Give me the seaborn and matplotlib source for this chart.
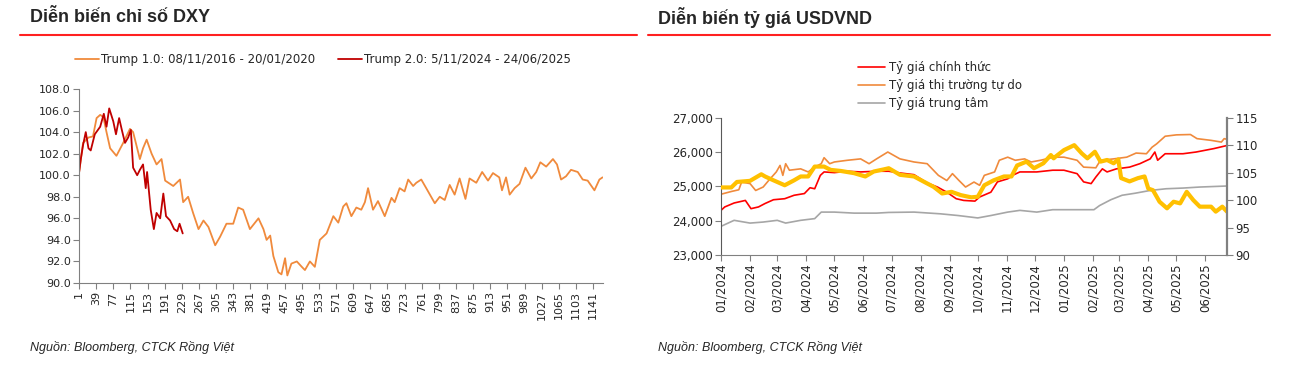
import pandas as pd
import numpy as np
import matplotlib.pyplot as plt
import matplotlib.dates as mdates
from matplotlib.lines import Line2D
from matplotlib.ticker import FuncFormatter
import seaborn as sns

# --- DXY: Trump 1.0 vs Trump 2.0 (day count since the election) ---
trump1_day = [1, 10, 22, 32, 40, 48, 55, 62, 70, 84, 99, 114, 121, 136, 143, 151, 162, 173, 184,
              192, 210, 225, 232, 243, 254, 266, 277, 288, 303, 314, 328, 343, 354, 365, 380, 399,
              410, 417, 425, 432, 443, 450, 458, 463, 472, 484, 495, 502, 513, 524, 535, 550, 565,
              576, 587, 594, 605, 616, 627, 635, 642, 653, 664, 679, 694, 701, 712, 723, 731, 742,
              749, 760, 771, 790, 801, 812, 823, 834, 845, 858, 867, 882, 895, 908, 919, 933, 939,
              948, 956, 967, 978, 991, 1004, 1015, 1024, 1037, 1052, 1061, 1070, 1081, 1092, 1107,
              1118, 1129, 1144, 1155, 1162]
trump1_dxy = [100.2, 103.0, 103.5, 103.6, 105.3, 105.6, 105.4, 104.0, 102.5, 101.8, 103.0, 104.3,
              104.0, 101.5, 102.5, 103.3, 102.0, 101.0, 101.5, 99.5, 99.0, 99.6, 97.5, 98.0, 96.5,
              95.0, 95.8, 95.2, 93.5, 94.3, 95.5, 95.5, 97.0, 96.8, 95.0, 96.0, 95.0, 94.0, 94.4,
              92.5, 91.0, 90.8, 92.3, 90.7, 91.8, 92.0, 91.5, 91.2, 92.0, 91.5, 94.0, 94.6, 96.2,
              95.6, 97.1, 97.4, 96.2, 97.0, 96.8, 97.5, 98.8, 96.8, 97.6, 96.2, 97.9, 97.5, 98.8,
              98.5, 99.6, 99.0, 99.3, 99.6, 98.8, 97.4, 98.0, 97.7, 99.1, 98.2, 99.7, 97.8, 99.7,
              99.3, 100.3, 99.5, 100.2, 99.8, 98.6, 99.8, 98.2, 98.8, 99.2, 100.7, 99.7, 100.3,
              101.2, 100.8, 101.5, 101.0, 99.6, 99.9, 100.5, 100.3, 99.6, 99.5, 98.6, 99.6, 99.8]

trump2_day = [1, 5, 10, 16, 22, 27, 36, 48, 56, 62, 68, 77, 83, 90, 96, 103, 110, 116, 121, 130,
              136, 143, 149, 152, 160, 167, 173, 181, 188, 194, 203, 212, 219, 224, 231]
trump2_dxy = [100.2, 101.5, 102.8, 104.0, 102.5, 102.3, 103.8, 104.5, 105.7, 104.5, 106.2, 105.0,
              103.8, 105.3, 104.2, 103.0, 103.5, 104.2, 100.7, 100.0, 100.5, 101.0, 98.8, 100.3,
              96.8, 95.0, 96.5, 96.0, 98.3, 96.2, 95.8, 95.0, 94.8, 95.5, 94.6]

dxy_ticks = list(range(1, 1142, 38))

# --- USDVND ---
official_date = ['2024-01-01', '2024-01-05', '2024-01-15', '2024-01-27', '2024-02-02', '2024-02-10',
                 '2024-02-17', '2024-02-26', '2024-03-09', '2024-03-19', '2024-03-30', '2024-04-05',
                 '2024-04-10', '2024-04-16', '2024-04-20', '2024-05-01', '2024-05-15', '2024-05-29',
                 '2024-06-15', '2024-06-28', '2024-07-10', '2024-07-25', '2024-08-08', '2024-08-19',
                 '2024-08-29', '2024-09-08', '2024-09-16', '2024-09-28', '2024-10-03', '2024-10-15',
                 '2024-10-22', '2024-11-02', '2024-11-07', '2024-11-15', '2024-12-03', '2024-12-20',
                 '2025-01-01', '2025-01-15', '2025-01-22', '2025-01-30', '2025-02-04', '2025-02-11',
                 '2025-02-16', '2025-02-26', '2025-03-12', '2025-03-23', '2025-04-03', '2025-04-08',
                 '2025-04-11', '2025-04-19', '2025-05-08', '2025-05-22', '2025-06-10', '2025-06-24']
official_rate = [24300, 24400, 24515, 24590, 24350, 24400, 24500, 24610, 24640, 24740, 24790, 24960,
                 24930, 25320, 25420, 25400, 25440, 25420, 25440, 25440, 25390, 25340, 25100, 24980,
                 24830, 24640, 24590, 24570, 24690, 24830, 25130, 25220, 25320, 25420, 25420, 25470,
                 25470, 25370, 25130, 25080, 25270, 25510, 25420, 25510, 25560, 25660, 25800, 26000,
                 25760, 25950, 25950, 26000, 26100, 26190]

free_date = ['2024-01-01', '2024-01-12', '2024-01-20', '2024-01-23', '2024-02-01', '2024-02-07',
             '2024-02-15', '2024-02-21', '2024-02-29', '2024-03-04', '2024-03-07', '2024-03-10',
             '2024-03-14', '2024-03-26', '2024-04-03', '2024-04-10', '2024-04-17', '2024-04-20',
             '2024-04-26', '2024-05-01', '2024-05-15', '2024-05-29', '2024-06-07', '2024-06-15',
             '2024-06-27', '2024-07-10', '2024-07-25', '2024-08-08', '2024-08-20', '2024-08-29',
             '2024-09-04', '2024-09-11', '2024-09-18', '2024-09-27', '2024-10-03', '2024-10-08',
             '2024-10-19', '2024-10-24', '2024-11-02', '2024-11-10', '2024-11-20', '2024-11-27',
             '2024-12-07', '2024-12-21', '2025-01-01', '2025-01-15', '2025-01-22', '2025-02-04',
             '2025-02-09', '2025-02-23', '2025-03-09', '2025-03-19', '2025-03-30', '2025-04-05',
             '2025-04-10', '2025-04-19', '2025-05-01', '2025-05-16', '2025-05-23', '2025-06-07',
             '2025-06-18', '2025-06-21', '2025-06-24']
free_rate = [24770, 24850, 24900, 25125, 25080, 24880, 24980, 25175, 25420, 25610, 25320, 25660,
             25470, 25510, 25420, 25560, 25660, 25835, 25660, 25710, 25760, 25800, 25660, 25800,
             26000, 25800, 25710, 25660, 25320, 25170, 25370, 25170, 24980, 25125, 25030, 25320,
             25420, 25760, 25850, 25760, 25800, 25710, 25760, 25850, 25850, 25760, 25560, 25540,
             25760, 25800, 25850, 25970, 25950, 26140, 26240, 26460, 26500, 26510, 26390, 26340,
             26290, 26390, 26370]

central_date = ['2024-01-01', '2024-01-15', '2024-02-01', '2024-02-15', '2024-03-01', '2024-03-10',
                '2024-03-26', '2024-04-10', '2024-04-17', '2024-05-01', '2024-05-22', '2024-06-15',
                '2024-06-28', '2024-07-25', '2024-08-22', '2024-09-10', '2024-10-01', '2024-10-15',
                '2024-11-02', '2024-11-15', '2024-12-03', '2024-12-20', '2025-01-08', '2025-02-02',
                '2025-02-08', '2025-02-20', '2025-03-04', '2025-03-18', '2025-04-03', '2025-04-20',
                '2025-05-08', '2025-05-26', '2025-06-24']
central_rate = [23835, 24010, 23930, 23960, 24010, 23930, 24010, 24060, 24250, 24250, 24220, 24220,
                24240, 24250, 24200, 24150, 24080, 24150, 24250, 24300, 24250, 24320, 24320, 24320,
                24440, 24610, 24740, 24800, 24880, 24930, 24950, 24980, 25010]

dxy_date = ['2024-01-01', '2024-01-12', '2024-01-18', '2024-02-01', '2024-02-05', '2024-02-13',
            '2024-02-17', '2024-02-26', '2024-03-05', '2024-03-09', '2024-03-19', '2024-03-26',
            '2024-04-03', '2024-04-10', '2024-04-20', '2024-04-27', '2024-05-08', '2024-05-22',
            '2024-06-03', '2024-06-12', '2024-06-23', '2024-06-28', '2024-07-10', '2024-07-25',
            '2024-08-05', '2024-08-15', '2024-08-24', '2024-09-03', '2024-09-13', '2024-09-24',
            '2024-10-01', '2024-10-08', '2024-10-18', '2024-10-29', '2024-11-06', '2024-11-12',
            '2024-11-22', '2024-11-30', '2024-12-10', '2024-12-18', '2024-12-21', '2024-12-23',
            '2025-01-01', '2025-01-12', '2025-01-20', '2025-01-26', '2025-02-03', '2025-02-09',
            '2025-02-16', '2025-02-23', '2025-02-28', '2025-03-03', '2025-03-12', '2025-03-21',
            '2025-03-28', '2025-04-01', '2025-04-06', '2025-04-13', '2025-04-21', '2025-04-28',
            '2025-05-05', '2025-05-12', '2025-05-19', '2025-05-26', '2025-06-07', '2025-06-12',
            '2025-06-19', '2025-06-24']
dxy_value = [102.3, 102.3, 103.3, 103.5, 103.9, 104.7, 104.3, 103.6, 103.0, 102.7, 103.6, 104.3,
             104.3, 106.1, 106.1, 105.5, 105.3, 104.9, 104.3, 105.2, 105.6, 105.8, 104.6, 104.3,
             103.3, 102.4, 101.2, 101.5, 100.9, 100.5, 100.6, 102.7, 103.6, 104.3, 104.3, 106.3,
             107.0, 105.8, 106.7, 108.2, 107.6, 107.9, 109.1, 110.0, 108.5, 107.6, 108.8, 107.0,
             107.3, 106.7, 107.4, 104.0, 103.4, 104.0, 104.3, 102.1, 101.8, 99.7, 98.5, 99.7,
             99.4, 101.5, 100.0, 98.8, 98.8, 97.9, 98.8, 97.9]

sns.set_style('ticks')
plt.rcParams['font.family'] = ['DejaVu Sans']
heading = ['Liberation Sans', 'DejaVu Sans']

W, H = 1292, 381
fig = plt.figure(figsize=(W / 100, H / 100), dpi=100)
ax1 = fig.add_axes([79 / W, 1 - 283 / H, 524 / W, 194 / H])
ax2 = fig.add_axes([721 / W, 1 - 255 / H, 506 / W, 137.3 / H])
ax3 = ax2.twinx()

# left chart
sns.lineplot(x=trump1_day, y=trump1_dxy, ax=ax1, color='#F08A3C', lw=1.3,
             label='Trump 1.0: 08/11/2016 - 20/01/2020')
sns.lineplot(x=trump2_day, y=trump2_dxy, ax=ax1, color='#C00000', lw=1.3,
             label='Trump 2.0: 5/11/2024 - 24/06/2025')
ax1.set_xlim(1, 1163)
ax1.set_ylim(90, 108)
ax1.set_yticks(np.arange(90, 108.1, 2))
ax1.yaxis.set_major_formatter(FuncFormatter(lambda v, p: f'{v:.1f}'))
ax1.set_xticks(dxy_ticks)
ax1.tick_params(axis='x', labelrotation=90)
ax1.tick_params(labelsize=8, length=4, color='#808080', pad=2)
ax1.set_xlabel('')
ax1.set_ylabel('')
sns.despine(ax=ax1)
for s in ['left', 'bottom']:
    ax1.spines[s].set_color('#808080')
ax1.legend(loc='center', bbox_to_anchor=(0.466, 1.15), ncol=2, frameon=False, fontsize=8.5,
           columnspacing=1.9, handletextpad=0.2)

# right chart
sns.lineplot(x=pd.to_datetime(official_date), y=official_rate, ax=ax2, color='#FF0000', lw=1.2,
             label='Tỷ giá chính thức')
sns.lineplot(x=pd.to_datetime(free_date), y=free_rate, ax=ax2, color='#F08A3C', lw=1.2,
             label='Tỷ giá thị trường tự do')
sns.lineplot(x=pd.to_datetime(central_date), y=central_rate, ax=ax2, color='#A6A6A6', lw=1.2,
             label='Tỷ giá trung tâm')
sns.lineplot(x=pd.to_datetime(dxy_date), y=dxy_value, ax=ax3, color='#FFC000', lw=3, legend=False)

ax2.set_xlim(pd.Timestamp('2024-01-01'), pd.Timestamp('2025-06-24'))
ax2.set_ylim(23000, 27000)
ax2.set_yticks(np.arange(23000, 27001, 1000))
ax2.yaxis.set_major_formatter(FuncFormatter(lambda v, p: f'{v:,.0f}'))
ax2.xaxis.set_major_locator(mdates.MonthLocator())
ax2.xaxis.set_major_formatter(mdates.DateFormatter('%m/%Y'))
ax2.tick_params(axis='x', labelrotation=90)
ax2.tick_params(labelsize=8.5, length=4, color='#808080', pad=2)
ax3.set_ylim(90, 115)
ax3.set_yticks(np.arange(90, 116, 5))
ax3.tick_params(labelsize=8.5, length=4, color='#808080', pad=2)
for a in (ax2, ax3):
    a.set_xlabel('')
    a.set_ylabel('')
    a.spines['top'].set_visible(False)
ax2.spines['right'].set_visible(False)
ax3.spines['left'].set_visible(False)
ax3.spines['bottom'].set_visible(False)
ax2.spines['left'].set_color('#595959')
ax2.spines['bottom'].set_color('#808080')
ax3.spines['right'].set_color('#808080')
ax3.spines['right'].set_linewidth(1.6)
ax2.legend(loc='upper left', bbox_to_anchor=(0.262, 1.445), frameon=False, fontsize=8.5,
           handlelength=2.3, handletextpad=0.3, borderaxespad=0, labelspacing=0.42)

# titles, rules and sources
fig.text(30 / W, 1 - 18 / H, 'Diễn biến chỉ số DXY', fontsize=13, fontweight='bold',
         va='center', family=heading)
fig.text(658 / W, 1 - 18 / H, 'Diễn biến tỷ giá USDVND', fontsize=13, fontweight='bold',
         va='center', family=heading)
fig.add_artist(Line2D([20 / W, 637 / W], [1 - 35 / H] * 2, color='#FF2020', lw=1.5))
fig.add_artist(Line2D([648 / W, 1270 / W], [1 - 35 / H] * 2, color='#FF2020', lw=1.5))
fig.text(30 / W, 1 - 348 / H, 'Nguồn: Bloomberg, CTCK Rồng Việt', fontsize=9, style='italic',
         va='center', family=heading)
fig.text(658 / W, 1 - 348 / H, 'Nguồn: Bloomberg, CTCK Rồng Việt', fontsize=9, style='italic',
         va='center', family=heading)

fig.savefig('out.png', dpi=100)
